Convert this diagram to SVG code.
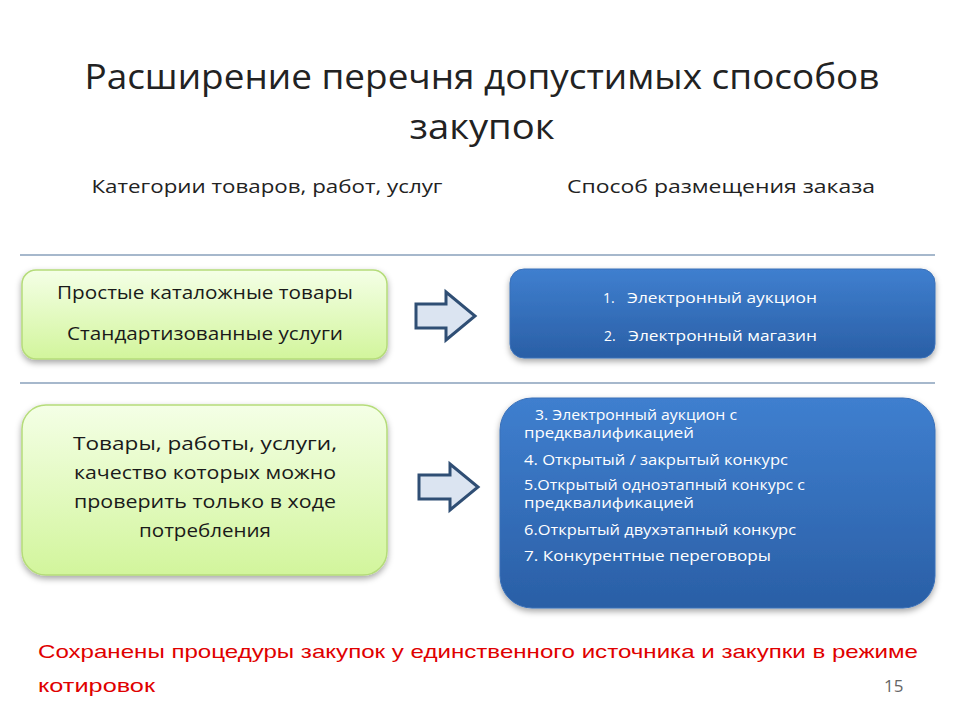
<svg xmlns="http://www.w3.org/2000/svg" width="960" height="720" viewBox="0 0 960 720">
<defs>
<linearGradient id="gg" x1="0" y1="0" x2="0" y2="1"><stop offset="0" stop-color="#f4ffe6"/><stop offset="1" stop-color="#d2f59c"/></linearGradient>
<linearGradient id="bg" x1="0" y1="0" x2="0" y2="1"><stop offset="0" stop-color="#3f7fcf"/><stop offset="1" stop-color="#2a5fa6"/></linearGradient>
<filter id="sh" x="-10%" y="-10%" width="120%" height="130%"><feDropShadow dx="0" dy="3" stdDeviation="3" flood-color="#000" flood-opacity="0.35"/></filter>
<style>
text{font-family:"Open Sans","Noto Sans","Liberation Sans",sans-serif}
.g{fill:url(#gg);stroke:#b5dc7a;stroke-width:1.5;filter:url(#sh)}
.b{fill:url(#bg);stroke:#3a70b8;stroke-width:1;filter:url(#sh)}
.gt{font-size:17.5px;fill:#1a1a1a;text-anchor:middle}
.bt{font-size:14px;fill:#fff}
.ar{fill:#dbe4f1;stroke:#2f4e74;stroke-width:3;stroke-linejoin:miter}
.ln{stroke:#4f7399;stroke-width:1.2}
</style>
</defs>
<rect width="960" height="720" fill="#fff"/>
<text x="482" y="89" font-size="35" text-anchor="middle" fill="#222" textLength="795" lengthAdjust="spacingAndGlyphs">Расширение перечня допустимых способов</text>
<text x="482" y="139" font-size="35" text-anchor="middle" fill="#222" textLength="145" lengthAdjust="spacingAndGlyphs">закупок</text>
<text x="267" y="193" font-size="19" text-anchor="middle" fill="#222" textLength="351" lengthAdjust="spacingAndGlyphs">Категории товаров, работ, услуг</text>
<text x="721" y="193" font-size="19" text-anchor="middle" fill="#222" textLength="308" lengthAdjust="spacingAndGlyphs">Способ размещения заказа</text>
<g id="connectors">
<line class="ln" x1="20" y1="255" x2="935" y2="255"/>
<line class="ln" x1="20" y1="383" x2="935" y2="383"/>
<path class="ar" d="M416,304 H446 V292 L475,316 L446,340 V328 H416 Z"/>
<path class="ar" d="M419,475 H450 V464 L478,487 L450,510 V499 H419 Z"/>
</g>
<g id="n1"><rect class="g" x="22" y="270" width="365" height="89" rx="14"/>
<text class="gt" x="205" y="299" textLength="296" lengthAdjust="spacingAndGlyphs">Простые каталожные товары</text>
<text class="gt" x="205" y="340" textLength="276" lengthAdjust="spacingAndGlyphs">Стандартизованные услуги</text></g>
<g id="n2"><rect class="b" x="510" y="269" width="425" height="89" rx="14"/>
<text class="bt" x="603" y="303" font-size="15">1.</text>
<text class="bt" x="627" y="303" font-size="15" textLength="190" lengthAdjust="spacingAndGlyphs">Электронный аукцион</text>
<text class="bt" x="604" y="341" font-size="15">2.</text>
<text class="bt" x="628" y="341" font-size="15" textLength="189" lengthAdjust="spacingAndGlyphs">Электронный магазин</text></g>
<g id="n3"><rect class="g" x="22" y="405" width="365" height="170" rx="24"/>
<text class="gt" x="205" y="450" textLength="264" lengthAdjust="spacingAndGlyphs">Товары, работы, услуги,</text>
<text class="gt" x="205" y="479" textLength="262" lengthAdjust="spacingAndGlyphs">качество которых можно</text>
<text class="gt" x="205" y="508" textLength="262" lengthAdjust="spacingAndGlyphs">проверить только в ходе</text>
<text class="gt" x="205" y="537" textLength="132" lengthAdjust="spacingAndGlyphs">потребления</text></g>
<g id="n4"><rect class="b" x="500" y="398" width="435" height="210" rx="32"/>
<text class="bt" x="535" y="420" textLength="202" lengthAdjust="spacingAndGlyphs">3. Электронный аукцион с</text>
<text class="bt" x="524" y="438" textLength="170" lengthAdjust="spacingAndGlyphs">предквалификацией</text>
<text class="bt" x="524" y="465" textLength="264" lengthAdjust="spacingAndGlyphs">4. Открытый / закрытый конкурс</text>
<text class="bt" x="524" y="490" textLength="281" lengthAdjust="spacingAndGlyphs">5.Открытый одноэтапный конкурс с</text>
<text class="bt" x="524" y="508" textLength="170" lengthAdjust="spacingAndGlyphs">предквалификацией</text>
<text class="bt" x="524" y="535" textLength="272" lengthAdjust="spacingAndGlyphs">6.Открытый двухэтапный конкурс</text>
<text class="bt" x="524" y="561" textLength="247" lengthAdjust="spacingAndGlyphs">7. Конкурентные переговоры</text></g>
<text x="38" y="658" font-size="19" fill="#e00000" style="font-family:'Liberation Sans',sans-serif" textLength="880" lengthAdjust="spacingAndGlyphs">Сохранены процедуры закупок у единственного источника и закупки в режиме</text>
<text x="38" y="692" font-size="19" fill="#e00000" style="font-family:'Liberation Sans',sans-serif" textLength="117" lengthAdjust="spacingAndGlyphs">котировок</text>
<text x="884" y="692" font-size="17" fill="#666">15</text>
</svg>
